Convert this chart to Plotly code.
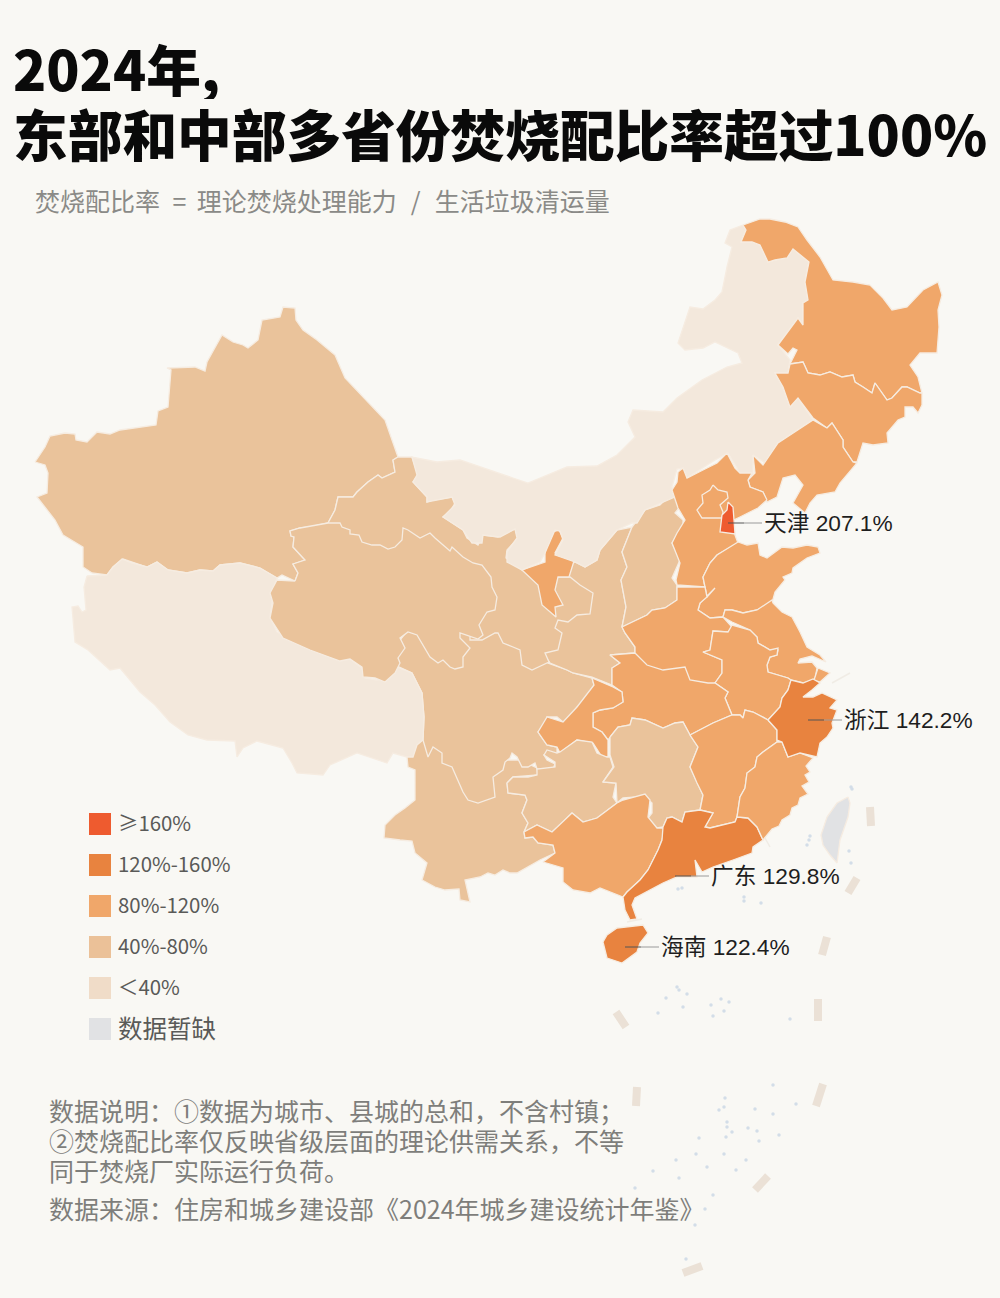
import plotly.graph_objects as go

FONT = "Noto Sans CJK SC"
CALLOUT_FONT = "Liberation Sans, Noto Sans CJK SC"
PAPER = "#F9F8F4"
BUCKET_LEGEND = ["\u2265160%", "120%-160%", "80%-120%", "40%-80%", "\uff1c40%", "数据暂缺"]
BUCKET_COLORS = ["#EE5B2F", "#E8833F", "#F0A76A", "#EAC39B", "#F3E8DC", "#E1E2E4"]
LEGEND_SWATCH = ["#EE5B2F", "#E8833F", "#F0A76A", "#EBC198", "#F0DCC8", "#E1E2E4"]

# province outlines, in picture units; drawn in this order
XINJIANG = [(35,462),(45,447),(50,436),(65,433),(75,434),(76,440),(87,442),(97,432),(110,434),(120,430),(156,425),(158,411),(168,407),(171,370),(167,368),(195,367),(205,371),(207,362),(222,335),(233,342),(243,345),(248,348),(258,340),(262,320),(280,317),(283,307),(295,308),(296,320),(303,330),(317,340),(335,355),(345,378),(385,420),(392,440),(398,457),(393,460),(395,472),(382,478),(378,475),(368,482),(357,492),(353,497),(338,497),(335,510),(328,523),(310,527),(300,528),(290,531),(291,536),(294,537),(293,547),(305,560),(293,564),(298,573),(295,581),(282,575),(277,578),(260,568),(240,563),(220,565),(213,571),(200,570),(187,573),(168,570),(157,562),(147,567),(123,559),(113,567),(107,575),(92,573),(83,567),(83,547),(63,535),(55,520),(37,497),(47,493),(48,473),(45,465)]
YUNNAN = [(407,757),(408,767),(415,770),(415,800),(405,808),(395,815),(385,825),(384,838),(400,840),(412,841),(415,853),(427,863),(422,880),(435,887),(445,890),(459,889),(460,900),(470,902),(465,880),(480,877),(488,873),(495,875),(503,870),(510,873),(517,873),(528,867),(540,860),(555,853),(553,845),(538,843),(533,837),(525,838),(524,832),(528,823),(522,813),(527,800),(525,795),(508,793),(507,783),(513,777),(538,775),(537,768),(520,760),(480,760),(440,745),(424,735)]
SICHUAN = [(395,665),(400,640),(408,630),(440,640),(470,630),(495,628),(550,655),(548,663),(567,670),(573,673),(592,678),(594,685),(585,703),(577,707),(570,720),(563,722),(557,717),(547,717),(545,723),(538,732),(542,738),(547,745),(557,747),(557,753),(544,755),(547,760),(555,764),(553,769),(537,769),(535,763),(528,767),(522,767),(517,757),(512,753),(510,758),(505,762),(503,770),(493,777),(495,797),(487,800),(478,803),(468,800),(463,792),(452,767),(442,763),(442,753),(433,747),(428,757),(423,740),(424,717),(422,693),(412,673)]
SHAANXI = [(632,527),(622,552),(627,567),(621,580),(626,607),(622,627),(625,633),(635,647),(635,653),(610,655),(620,663),(612,668),(612,685),(592,677),(573,673),(567,670),(550,663),(540,650),(550,600),(560,570),(575,562),(585,567),(597,560),(600,550),(617,530)]
GANSU = [(328,523),(335,510),(338,497),(353,497),(357,492),(368,482),(378,475),(382,478),(395,472),(393,460),(398,457),(412,457),(418,475),(413,482),(427,497),(427,502),(433,500),(452,497),(455,503),(450,512),(443,517),(463,530),(467,538),(478,545),(483,535),(498,537),(515,529),(518,538),(507,550),(506,558),(522,570),(540,580),(558,577),(570,577),(580,585),(593,593),(590,614),(577,615),(568,622),(558,620),(555,628),(562,633),(558,650),(545,653),(549,662),(538,667),(532,670),(522,665),(520,650),(513,647),(503,643),(498,633),(495,633),(482,640),(470,640),(470,600),(430,560),(400,560),(350,545),(328,530)]
TIBET = [(87,576),(107,575),(113,567),(122,559),(132,563),(147,567),(157,562),(168,570),(187,573),(200,570),(213,571),(220,565),(240,563),(260,568),(277,578),(273,590),(272,603),(270,617),(277,632),(293,640),(307,648),(327,655),(340,660),(350,659),(362,668),(365,678),(377,680),(385,678),(397,667),(412,673),(422,693),(424,717),(423,740),(417,745),(413,757),(407,757),(393,753),(387,763),(373,758),(357,753),(330,765),(323,775),(297,773),(292,763),(283,748),(257,741),(243,748),(237,757),(235,741),(207,740),(188,735),(170,722),(155,705),(140,692),(120,668),(110,670),(88,650),(75,642),(72,607),(78,606),(82,612),(86,610),(84,587)]
QINGHAI = [(295,581),(298,573),(293,564),(305,560),(293,547),(294,537),(291,536),(290,531),(300,528),(328,523),(340,523),(342,527),(350,530),(350,534),(359,535),(362,542),(372,545),(380,545),(388,549),(395,547),(402,540),(403,528),(408,530),(420,538),(430,533),(435,538),(450,551),(452,547),(463,557),(473,563),(482,565),(491,577),(492,587),(497,597),(495,610),(487,612),(479,625),(483,635),(478,639),(460,633),(460,638),(470,648),(463,657),(463,667),(455,669),(450,667),(443,660),(438,663),(430,657),(420,640),(417,635),(408,632),(400,638),(405,648),(398,658),(400,663),(395,673),(385,682),(375,678),(363,677),(362,667),(350,659),(340,661),(310,650),(283,638),(270,618),(273,603),(270,593),(277,580)]
NINGXIA = [(522,570),(545,562),(545,553),(548,540),(553,532),(559,530),(563,538),(555,553),(574,561),(569,577),(558,577),(555,590),(563,605),(555,607),(556,617),(542,605),(538,585)]
SHANXI = [(632,527),(645,510),(660,505),(675,490),(683,503),(675,513),(683,520),(683,527),(672,543),(680,560),(672,578),(677,585),(677,600),(665,608),(652,610),(647,615),(622,627),(626,607),(621,580),(627,567),(622,552)]
INNER_MONGOLIA = [(743,225),(730,230),(725,243),(732,247),(727,267),(722,292),(715,300),(703,309),(690,307),(678,343),(685,350),(703,348),(715,342),(738,353),(742,363),(727,367),(702,380),(677,398),(663,412),(633,410),(628,422),(635,437),(617,455),(597,466),(567,467),(543,477),(528,483),(513,478),(490,470),(460,460),(437,462),(412,457),(417,475),(413,482),(427,497),(427,502),(452,497),(455,505),(443,517),(463,530),(472,543),(482,543),(483,535),(500,537),(515,529),(517,538),(507,552),(507,562),(522,570),(540,562),(545,553),(555,530),(560,531),(563,540),(555,555),(575,562),(585,567),(597,560),(600,550),(617,530),(632,523),(637,523),(645,510),(675,497),(672,487),(677,469),(683,468),(687,478),(715,460),(728,453),(737,468),(740,477),(753,477),(753,455),(765,463),(778,443),(813,420),(798,398),(790,407),(783,387),(775,373),(788,373),(790,360),(778,345),(798,318),(803,325),(803,303),(808,300),(805,282),(809,262),(793,249),(787,258),(775,260),(768,262),(760,245),(752,242),(741,242),(746,230)]
HEILONGJIANG = [(743,225),(760,219),(770,219),(785,222),(798,227),(807,240),(820,257),(833,280),(853,282),(870,285),(883,298),(892,310),(907,307),(923,290),(938,282),(942,295),(938,310),(939,327),(937,353),(920,353),(910,365),(918,377),(922,393),(920,393),(907,387),(902,387),(892,398),(887,400),(875,383),(872,393),(863,387),(855,382),(853,375),(842,377),(830,372),(820,375),(808,373),(803,362),(790,364),(797,350),(793,348),(788,354),(778,345),(798,318),(803,325),(803,303),(808,300),(805,282),(809,262),(793,249),(787,258),(775,260),(768,262),(760,245),(752,242),(741,242),(746,230)]
JILIN = [(790,364),(803,362),(808,373),(820,375),(830,372),(842,377),(853,375),(855,382),(863,387),(872,393),(875,383),(887,400),(892,398),(902,387),(907,387),(920,393),(922,393),(922,405),(918,413),(913,407),(905,407),(905,417),(898,420),(887,433),(888,443),(873,445),(863,443),(857,462),(853,462),(843,447),(843,440),(832,423),(827,428),(813,418),(798,398),(790,407),(783,387),(775,373),(788,373)]
LIAONING = [(813,420),(827,428),(832,423),(843,440),(843,447),(853,462),(857,463),(847,475),(840,483),(835,492),(817,495),(810,503),(805,513),(793,503),(803,485),(795,475),(783,478),(777,497),(767,502),(763,492),(750,487),(748,480),(755,473),(753,455),(763,465),(778,443)]
HEBEI = [(767,500),(758,508),(740,517),(734,520),(735,535),(738,543),(717,555),(710,563),(703,577),(705,587),(677,585),(676,580),(680,563),(672,543),(677,533),(685,520),(678,508),(675,500),(672,490),(677,482),(678,472),(683,468),(687,478),(703,470),(717,463),(727,453),(735,468),(740,473),(752,473),(748,480),(750,487),(763,492)]
BEIJING = [(713,485),(718,490),(727,492),(728,498),(720,505),(723,512),(722,518),(702,518),(697,510),(703,503),(702,495),(710,490)]
TIANJIN = [(728,502),(733,507),(734,520),(735,534),(720,532),(722,515),(727,510)]
SHANDONG = [(738,542),(747,545),(758,543),(760,555),(767,558),(782,547),(793,548),(807,545),(818,547),(820,553),(807,558),(798,565),(793,568),(792,573),(783,577),(785,580),(775,592),(772,603),(757,610),(743,613),(732,610),(725,610),(723,617),(710,618),(698,610),(700,603),(715,588),(707,597),(705,587),(703,577),(710,563),(717,555)]
HENAN = [(622,627),(647,615),(652,610),(665,608),(677,600),(677,587),(705,587),(707,597),(700,603),(698,610),(710,618),(723,617),(732,627),(728,632),(713,631),(710,650),(703,652),(722,660),(722,673),(715,683),(708,690),(680,690),(650,680),(635,660),(635,653),(635,647),(625,633)]
JIANGSU = [(773,603),(782,612),(792,617),(800,632),(807,647),(820,655),(826,662),(812,656),(800,659),(798,663),(812,662),(817,668),(815,679),(803,683),(791,680),(788,678),(768,672),(767,665),(770,657),(777,655),(778,650),(770,650),(758,643),(757,637),(750,630),(732,622),(723,617),(725,610),(732,610),(743,613),(757,610),(772,600)]
SHANGHAI = [(818,668),(830,673),(820,682),(814,680)]
ANHUI = [(732,625),(750,630),(757,637),(758,643),(770,650),(778,648),(777,655),(770,657),(767,665),(768,672),(788,678),(791,680),(788,690),(782,698),(780,707),(768,720),(763,717),(753,712),(745,710),(743,718),(740,715),(732,715),(725,698),(728,692),(715,683),(722,673),(722,660),(703,652),(710,650),(713,631),(728,632)]
HUBEI = [(635,653),(647,665),(663,670),(685,667),(690,680),(708,683),(715,683),(728,692),(725,698),(732,715),(713,723),(690,735),(683,722),(675,723),(663,728),(645,720),(632,718),(630,725),(618,727),(610,737),(608,740),(602,732),(593,727),(593,713),(600,710),(613,708),(623,702),(622,692),(612,685),(612,668),(620,663),(610,655)]
CHONGQING = [(592,678),(613,687),(622,692),(623,702),(613,708),(600,710),(593,713),(593,727),(602,732),(608,740),(608,757),(602,757),(593,743),(577,740),(560,753),(557,747),(547,745),(538,732),(547,717),(563,722),(577,707),(594,685)]
GUIZHOU = [(507,783),(513,777),(528,777),(537,775),(537,769),(555,767),(555,762),(544,755),(547,750),(557,753),(560,752),(567,747),(577,740),(592,742),(597,753),(607,757),(610,757),(613,767),(603,782),(616,783),(613,797),(617,803),(608,810),(597,818),(583,822),(572,813),(563,822),(552,832),(537,825),(524,832),(528,823),(522,813),(527,800),(525,795),(508,793)]
HUNAN = [(610,737),(618,727),(630,725),(632,718),(645,720),(663,728),(675,723),(683,722),(690,735),(698,747),(690,767),(697,783),(703,795),(700,810),(685,812),(682,822),(672,817),(667,818),(663,827),(657,828),(645,822),(652,813),(652,803),(643,795),(637,797),(623,798),(617,803),(616,783),(603,782),(614,767),(610,755),(610,740)]
JIANGXI = [(690,735),(713,723),(732,715),(740,715),(743,718),(745,710),(753,712),(763,717),(768,720),(777,730),(777,742),(763,752),(757,757),(755,767),(747,773),(745,788),(740,797),(737,817),(735,822),(710,828),(705,827),(713,813),(700,810),(703,795),(697,783),(690,767),(698,747)]
GUANGXI = [(524,832),(537,825),(552,832),(563,822),(572,813),(583,822),(597,818),(617,803),(623,800),(645,794),(650,800),(648,817),(657,828),(665,828),(662,840),(658,850),(648,870),(640,880),(627,892),(623,897),(613,893),(600,888),(590,893),(573,890),(563,882),(563,868),(543,862),(555,853),(553,845),(538,843),(533,837),(525,838)]
GUANGDONG = [(663,827),(667,818),(672,817),(682,822),(685,812),(700,810),(713,813),(705,827),(710,828),(735,822),(737,817),(748,818),(757,827),(763,840),(753,847),(752,853),(733,860),(713,867),(702,872),(695,860),(697,877),(677,877),(663,883),(640,895),(635,898),(632,905),(637,919),(630,920),(625,910),(623,897),(627,892),(640,880),(648,870),(658,850),(662,840)]
FUJIAN = [(777,742),(782,742),(788,757),(800,753),(813,758),(806,766),(810,772),(805,775),(809,782),(802,786),(808,794),(800,798),(798,805),(792,808),(790,815),(782,820),(779,826),(772,829),(763,840),(757,827),(748,818),(737,817),(740,797),(745,788),(747,773),(755,767),(757,757),(763,752)]
ZHEJIANG = [(768,720),(780,707),(782,698),(788,690),(791,680),(803,683),(813,679),(820,683),(812,690),(803,697),(813,697),(822,693),(837,700),(830,708),(837,710),(832,723),(833,728),(827,737),(820,743),(817,757),(800,753),(788,757),(782,742),(777,740),(777,730)]
HAINAN = [(603,942),(607,935),(617,928),(643,925),(648,933),(640,943),(637,952),(622,963),(607,958)]
TAIWAN = [(848,797),(850,803),(848,817),(840,840),(837,863),(830,855),(823,845),(821,835),(827,817),(837,803)]

PROVINCES = ["新疆","云南","四川","陕西","甘肃","西藏","青海","宁夏","山西","内蒙古","黑龙江","吉林","辽宁","河北","北京","天津","山东","河南","江苏","上海","安徽","湖北","重庆","贵州","湖南","江西","广西","广东","福建","浙江","海南","台湾"]
OUTLINES = [XINJIANG,YUNNAN,SICHUAN,SHAANXI,GANSU,TIBET,QINGHAI,NINGXIA,SHANXI,INNER_MONGOLIA,HEILONGJIANG,JILIN,LIAONING,HEBEI,BEIJING,TIANJIN,SHANDONG,HENAN,JIANGSU,SHANGHAI,ANHUI,HUBEI,CHONGQING,GUIZHOU,HUNAN,JIANGXI,GUANGXI,GUANGDONG,FUJIAN,ZHEJIANG,HAINAN,TAIWAN]
BUCKET_OF = [3,3,3,3,3,4,3,2,3,4,2,2,2,2,2,0,2,2,2,2,2,2,2,3,3,2,2,1,2,1,1,5]

CALLOUT_NAMES = ["天津", "浙江", "广东", "海南"]
CALLOUT_VALUES = [207.1, 142.2, 129.8, 122.4]
CALLOUT_X = [728, 808, 675, 625]
CALLOUT_Y = [523, 720, 876, 947]

DASHES = [((870,807),(871,826)),((857,878),(848,893)),((827,937),(822,955)),((818,999),(818,1021)),((823,1084),(816,1106)),((768,1176),(755,1190)),((702,1266),(683,1273)),((616,1012),(626,1027)),((637,1087),(636,1106))]
THIN_DASHES = [((765,838),(770,847)),((627,922),(642,919)),((832,683),(850,673))]
ISLAND_X = [677,679,687,666,683,658,711,721,729,724,713,790,773,725,724,719,755,773,796,727,727,732,726,748,757,759,779,699,696,676,724,746,707,736,653,679,635,713,705,695,686,810,809,807,849,851,851,852,744,744,761,678,682]
ISLAND_Y = [987,990,994,998,1007,1013,1005,999,1002,1011,1016,1019,1085,1098,1107,1110,1109,1114,1104,1122,1127,1132,1137,1128,1131,1141,1135,1138,1154,1160,1154,1160,1167,1170,1171,1178,1188,1195,1209,1225,1259,836,840,845,851,863,787,789,897,901,903,889,888]

TITLE_LINES = ["2024年,", "东部和中部多省份焚烧配比率超过100%"]
SUBTITLE = "焚烧配比率\u2002=\u2005\u2006理论焚烧处理能力\u2002\u200a/\u2002\u200a生活垃圾清运量"
NOTES = ["数据说明\uff1a①数据为城市、县城的总和\uff0c不含村镇\uff1b", "②焚烧配比率仅反映省级层面的理论供需关系\uff0c不等", "同于焚烧厂实际运行负荷。", "数据来源\uff1a住房和城乡建设部《2024年城乡建设统计年鉴》"]
NOTE_Y = [1112, 1142, 1172, 1210]
LEGEND_Y = [824, 865, 906, 947, 988, 1029]
LEGEND_SIZE = [20.4, 20.4, 20.4, 20.4, 20.4, 24.5]

fig = go.Figure()
for seg in DASHES:
    fig.add_trace(go.Scatter(x=[seg[0][0], seg[1][0]], y=[seg[0][1], seg[1][1]], mode="lines",
                             line=dict(color="#EBE1D6", width=8), hoverinfo="skip"))
for seg in THIN_DASHES:
    fig.add_trace(go.Scatter(x=[seg[0][0], seg[1][0]], y=[seg[0][1], seg[1][1]], mode="lines",
                             line=dict(color="#F0ECE5", width=1.5), hoverinfo="skip"))
fig.add_trace(go.Scatter(x=ISLAND_X, y=ISLAND_Y, mode="markers",
                         marker=dict(color="#D3DDE8", size=3.5), hoverinfo="skip"))

for name, pts, b in zip(PROVINCES, OUTLINES, BUCKET_OF):
    xs = [p[0] for p in pts] + [pts[0][0]]
    ys = [p[1] for p in pts] + [pts[0][1]]
    fig.add_trace(go.Scatter(x=xs, y=ys, mode="lines", fill="toself", name=name,
                             fillcolor=BUCKET_COLORS[b],
                             line=dict(color="#F6ECE1", width=1.3),
                             hovertemplate=name + "<extra></extra>"))

for x, y in zip(CALLOUT_X, CALLOUT_Y):
    fig.add_trace(go.Scatter(x=[x, x + 16], y=[y, y], mode="lines", line=dict(color="#555555", width=1), hoverinfo="skip"))
    fig.add_trace(go.Scatter(x=[x + 16, x + 34], y=[y, y], mode="lines", line=dict(color="#9A9A9A", width=1), hoverinfo="skip"))

fig.add_trace(go.Scatter(x=[100] * 6, y=LEGEND_Y, mode="markers",
                         marker=dict(symbol="square", size=22, color=LEGEND_SWATCH, line=dict(width=0)),
                         hoverinfo="skip"))

def label(x, y, text, size, color, weight=None, family=FONT, **kw):
    fig.add_annotation(x=x - 2.5, y=y - 2, xref="x", yref="y", text=text, showarrow=False, xanchor="left",
                       yanchor="middle", align="left",
                       font=dict(family=family, size=size, color=color, weight=weight), **kw)

label(13, 69, TITLE_LINES[0], 54.7, "#0A0A0A", 900, height=64)
label(13, 134, TITLE_LINES[1], 54.7, "#0A0A0A", 900, height=64)
label(35, 202, SUBTITLE, 25, "#8A8A87")
for name, val, x, y in zip(CALLOUT_NAMES, CALLOUT_VALUES, CALLOUT_X, CALLOUT_Y):
    label(x + 36, y + 2, f"{name} {val}%", 22.7, "#1E1E1E", family=CALLOUT_FONT)
for t, y, s in zip(BUCKET_LEGEND, LEGEND_Y, LEGEND_SIZE):
    label(118, y, t, s, "#5A5A58")
for t, y in zip(NOTES, NOTE_Y):
    label(49, y, t, 25, "#7E7E7B")

fig.update_layout(width=1000, height=1298, margin=dict(l=0, r=0, t=0, b=0), showlegend=False,
                  paper_bgcolor=PAPER, plot_bgcolor=PAPER,
                  xaxis=dict(range=[0, 1000], visible=False, fixedrange=True),
                  yaxis=dict(range=[1298, 0], visible=False, fixedrange=True))
fig.write_html("out.html", config=dict(displayModeBar=False),
               post_script="document.body.style.margin='0';document.body.style.background='" + PAPER + "';")
